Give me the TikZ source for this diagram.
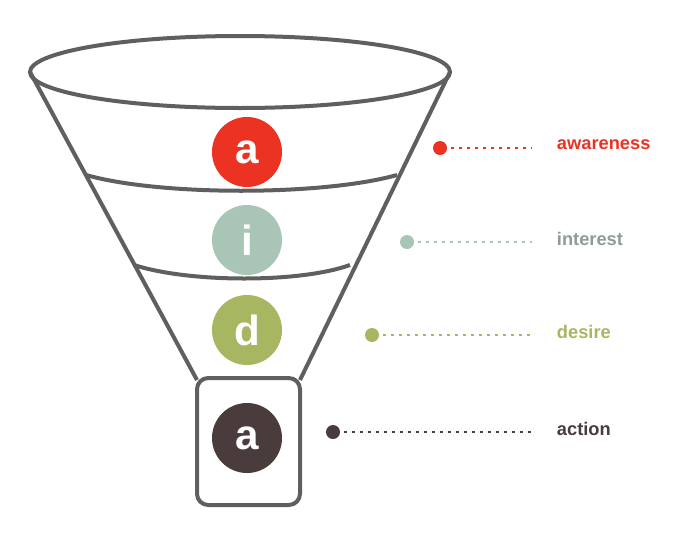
\documentclass[tikz,border=0pt]{standalone}
\usepackage{fontspec}
\setmainfont{Liberation Sans}
\definecolor{cAware}{HTML}{EC3222}
\definecolor{cInter}{HTML}{A9C5B5}
\definecolor{cInterText}{HTML}{8E9C93}
\definecolor{cDesire}{HTML}{A7B661}
\definecolor{cAction}{HTML}{4A3B3C}
\definecolor{cFunnel}{HTML}{5F5F5F}
\begin{document}
\begin{tikzpicture}[
		x=0.025cm, y=-0.025cm,
		funnel/.style={draw=cFunnel, line width=1mm},
		stage/.style={circle, minimum size=1.75cm, inner sep=0pt, text=white, font=\bfseries\fontsize{30}{30}\selectfont},
		dot/.style={circle, minimum size=3.5mm, inner sep=0pt},
		desc/.style={anchor=west, font=\bfseries\fontsize{13}{15}\selectfont},
		link/.style={line width=0.7mm, dash pattern=on 0.7mm off 1.3mm, shorten <=1mm, shorten >=5mm}
		]

	\useasboundingbox (0, 0) rectangle (692, 534);

	% Funnel
	\draw[funnel] (240, 72) ellipse [x radius=210, y radius=36];
	\draw[funnel] (30, 72) -- (197, 380);
	\draw[funnel] (450, 72) -- (300, 380);
	\draw[funnel] (86, 175) .. controls (160, 196) and (322, 196) .. (397, 175);
	\draw[funnel] (134, 265) .. controls (190, 283) and (300, 283) .. (350, 265);
	\draw[funnel, rounded corners=8] (197, 378) rectangle (300, 505);

	% Stages
	\node[stage, fill=cAware] (s1) at (247, 152) {a};
	\node[stage, fill=cInter] (s2) at (247, 240) {i};
	\node[stage, fill=cDesire] (s3) at (247, 330) {d};
	\node[stage, fill=cAction] (s4) at (247, 438) {a};

	% Labels
	\foreach \i/\x/\y/\c/\tc/\t in {1/440/148/cAware/cAware/awareness, 2/407/242/cInter/cInterText/interest,
			3/372/335/cDesire/cDesire/desire, 4/333/432/cAction/cAction/action}{
		\node[dot, fill=\c] (d\i) at (\x, \y) {};
		\node[desc, text=\tc] (l\i) at (552, \y-3) {\t};
		\draw[link, draw=\c] (d\i) -- (d\i -| l\i.west);
	}

\end{tikzpicture}
\end{document}
